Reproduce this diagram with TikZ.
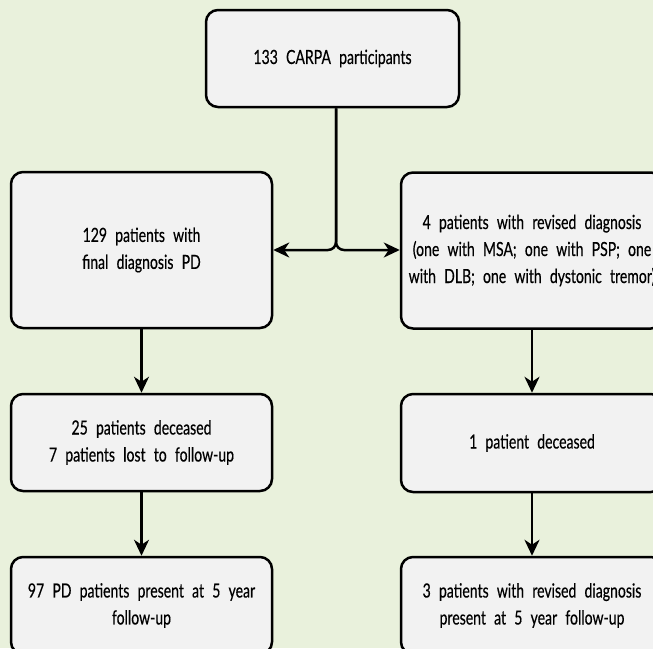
\documentclass[tikz,border=0pt]{standalone}
\usepackage{fontspec}
\setmainfont[FakeStretch=0.72, FakeBold=0.4]{Lato}
\usetikzlibrary{arrows.meta}
\definecolor{bggreen}{RGB}{233,241,220}
\definecolor{boxgray}{RGB}{242,242,242}
\newcommand\boxfont{\fontsize{19.5}{27}\selectfont\spaceskip=0.42em\relax}
\tikzset{
  flowbox/.style={draw=black, line width=2.5pt, fill=boxgray, rounded corners=12pt,
    align=center, inner sep=0pt, font=\boxfont},
  leftbox/.style={flowbox, minimum width=261pt},
  rightbox/.style={flowbox, minimum width=262pt},
  flowarrow/.style={line width=2.5pt, -{Stealth[length=16pt,width=15pt,inset=5pt]}}
}
\begin{document}
\begin{tikzpicture}[x=1pt, y=-1pt]
    \useasboundingbox (0, 0) rectangle (653, 648);
    \fill[bggreen] (0, 0) rectangle (653, 648);
    \clip (0, 0) rectangle (653, 648);
    % boxes
    \node[flowbox, minimum width=253pt, minimum height=97pt] (cohort) at (332.5, 58.5) {133 CARPA participants};
    \node[leftbox, minimum height=156pt] (pd) at (141.5, 250) {129 patients with\\final diagnosis PD};
    \node[rightbox, minimum height=156pt] (revised) at (532, 250.5) {4 patients with revised diagnosis\\(one with MSA; one with PSP; one\\with DLB; one with dystonic tremor)};
    \node[leftbox, minimum height=97pt] (pddead) at (141.5, 442.5) {25 patients deceased\\7 patients lost to follow-up};
    \node[rightbox, minimum height=98pt] (revdead) at (532, 443) {1 patient deceased};
    \node[leftbox, minimum height=97pt] (pdfinal) at (141.5, 605.5) {97 PD patients present at 5 year\\follow-up};
    \node[rightbox, minimum height=97pt] (revfinal) at (532, 605.5) {3 patients with revised diagnosis\\present at 5 year follow-up};
    % split below the cohort
    \coordinate (split) at (336, 250);
    \draw[flowarrow, rounded corners=8pt] (split |- cohort.south) |- (pd.east);
    \draw[flowarrow, rounded corners=8pt] (split |- cohort.south) |- (revised.west |- split);
    % follow-up arrows
    \draw[flowarrow] (pd) -- (pddead);
    \draw[flowarrow] (pddead) -- (pdfinal);
    \draw[flowarrow] (revised) -- (revdead);
    \draw[flowarrow] (revdead) -- (revfinal);
\end{tikzpicture}
\end{document}
